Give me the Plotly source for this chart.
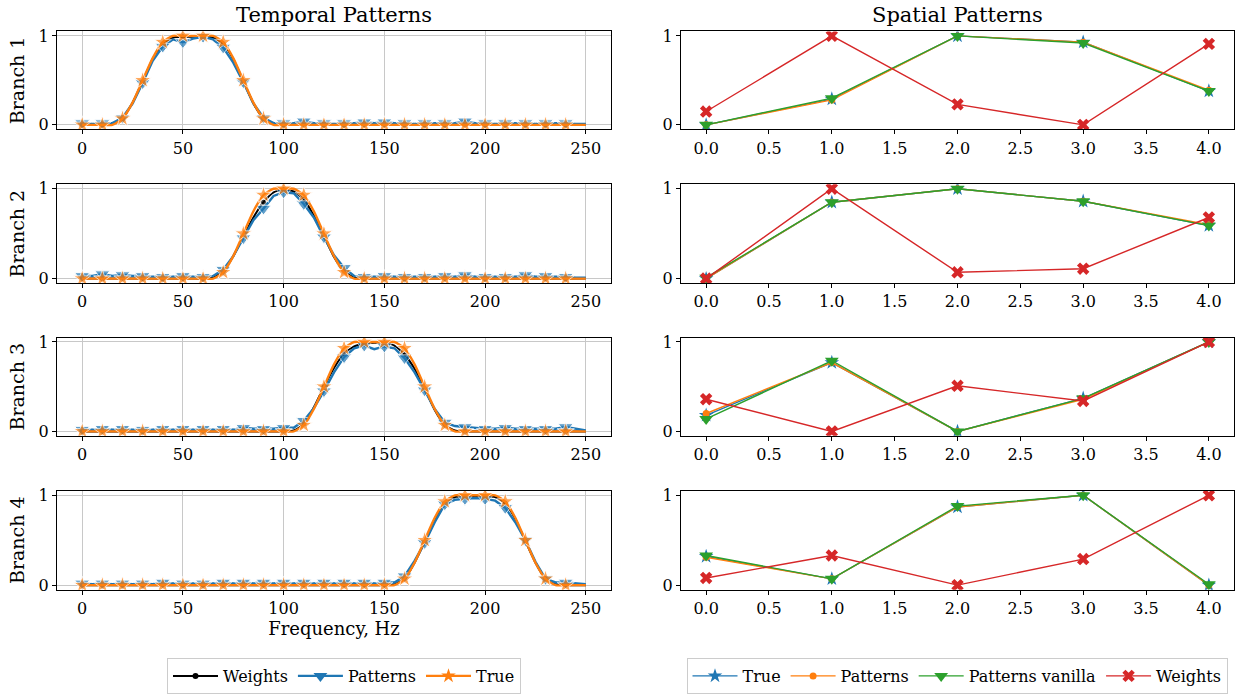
import plotly.graph_objects as go
from plotly.subplots import make_subplots

# ---------------- data ----------------
freq = list(range(0, 255, 5))  # 0..250 Hz, 51 points

true_t = [
    [0, 0, 0, 0, 0.07, 0.25, 0.5, 0.75, 0.93, 1, 1, 1, 1, 1, 0.93, 0.75, 0.5, 0.25, 0.07, 0,
     0, 0, 0, 0, 0, 0, 0, 0, 0, 0, 0, 0, 0, 0, 0, 0, 0, 0, 0, 0, 0, 0, 0, 0, 0, 0, 0, 0, 0, 0, 0],
    [0, 0, 0, 0, 0, 0, 0, 0, 0, 0, 0, 0, 0,
     0, 0.07, 0.25, 0.5, 0.75, 0.93, 1, 1, 1, 0.93, 0.75, 0.5, 0.25, 0.07, 0,
     0, 0, 0, 0, 0, 0, 0, 0, 0, 0, 0, 0, 0, 0, 0, 0, 0, 0, 0, 0, 0, 0, 0],
    [0, 0, 0, 0, 0, 0, 0, 0, 0, 0, 0, 0, 0, 0, 0, 0, 0, 0, 0, 0, 0, 0,
     0.07, 0.25, 0.5, 0.75, 0.93, 1, 1, 1, 1, 1, 0.93, 0.75, 0.5, 0.25, 0.07, 0,
     0, 0, 0, 0, 0, 0, 0, 0, 0, 0, 0, 0, 0],
    [0, 0, 0, 0, 0, 0, 0, 0, 0, 0, 0, 0, 0, 0, 0, 0, 0, 0, 0, 0, 0, 0, 0, 0, 0, 0, 0, 0, 0, 0, 0, 0,
     0.07, 0.25, 0.5, 0.75, 0.93, 1, 1, 1, 1, 1, 0.93, 0.75, 0.5, 0.25, 0.07, 0,
     0, 0, 0],
]

patterns_t = [
    [0.02, 0.01, 0.02, 0.02, 0.08, 0.24, 0.47, 0.72, 0.88, 0.96, 0.93, 0.97, 0.99, 0.96, 0.87, 0.70, 0.48, 0.24, 0.08, 0.02,
     0.02, 0.02, 0.04, 0.02, 0.02, 0.01, 0.02, 0.02, 0.03, 0.02, 0.03, 0.02, 0.02, 0.01, 0.02, 0.02, 0.02, 0.02, 0.04, 0.02,
     0.02, 0.01, 0.02, 0.02, 0.02, 0.01, 0.02, 0.02, 0.02, 0.01, 0.01],
    [0.03, 0.03, 0.05, 0.03, 0.04, 0.03, 0.03, 0.02, 0.02, 0.02, 0.03, 0.02, 0.02, 0.03, 0.10, 0.25, 0.45, 0.65, 0.78, 0.92,
     0.96, 0.95, 0.83, 0.68, 0.46, 0.26, 0.12, 0.03, 0.02, 0.02, 0.03, 0.02, 0.02, 0.02, 0.02, 0.02, 0.03, 0.02, 0.04, 0.02,
     0.02, 0.02, 0.02, 0.02, 0.04, 0.02, 0.03, 0.02, 0.02, 0.01, 0.01],
    [0.02, 0.02, 0.03, 0.02, 0.03, 0.02, 0.02, 0.02, 0.03, 0.02, 0.03, 0.02, 0.03, 0.02, 0.03, 0.02, 0.04, 0.03, 0.03, 0.03,
     0.04, 0.04, 0.12, 0.26, 0.45, 0.66, 0.83, 0.93, 0.96, 0.92, 0.95, 0.93, 0.82, 0.66, 0.46, 0.25, 0.10, 0.06, 0.05, 0.04,
     0.03, 0.03, 0.04, 0.03, 0.03, 0.03, 0.03, 0.03, 0.05, 0.03, 0.01],
    [0.02, 0.01, 0.02, 0.01, 0.02, 0.01, 0.02, 0.01, 0.03, 0.02, 0.02, 0.02, 0.02, 0.02, 0.03, 0.02, 0.03, 0.02, 0.03, 0.02,
     0.03, 0.02, 0.03, 0.02, 0.03, 0.02, 0.03, 0.02, 0.03, 0.02, 0.03, 0.03, 0.10, 0.27, 0.47, 0.70, 0.90, 0.95, 0.96, 0.97,
     0.96, 0.94, 0.86, 0.70, 0.50, 0.26, 0.07, 0.03, 0.03, 0.02, 0.01],
]

weights_t = [
    [0, 0, 0, 0.01, 0.07, 0.25, 0.49, 0.74, 0.91, 0.98, 0.99, 0.99, 0.99, 0.98, 0.91, 0.74, 0.49, 0.24, 0.07, 0.01,
     0, 0, 0, 0, 0, 0, 0, 0, 0, 0, 0, 0, 0, 0, 0, 0, 0, 0, 0, 0, 0, 0, 0, 0, 0, 0, 0, 0, 0, 0, 0],
    [0, 0, 0, 0, 0, 0, 0, 0, 0, 0, 0, 0, 0,
     0.01, 0.08, 0.25, 0.47, 0.68, 0.85, 0.96, 0.99, 0.97, 0.88, 0.70, 0.47, 0.24, 0.08, 0.01,
     0, 0, 0, 0, 0, 0, 0, 0, 0, 0, 0, 0, 0, 0, 0, 0, 0, 0, 0, 0, 0, 0, 0],
    [0, 0, 0, 0, 0, 0, 0, 0, 0, 0, 0, 0, 0, 0, 0, 0, 0, 0, 0, 0, 0, 0.01,
     0.08, 0.27, 0.50, 0.71, 0.87, 0.95, 0.98, 0.99, 0.99, 0.96, 0.86, 0.70, 0.48, 0.24, 0.07, 0.01,
     0, 0, 0, 0, 0, 0, 0, 0, 0, 0, 0, 0, 0],
    [0, 0, 0, 0, 0, 0, 0, 0, 0, 0, 0, 0, 0, 0, 0, 0, 0, 0, 0, 0, 0, 0, 0, 0, 0, 0, 0, 0, 0, 0, 0, 0.01,
     0.07, 0.25, 0.48, 0.72, 0.91, 0.98, 0.99, 0.99, 0.99, 0.98, 0.91, 0.74, 0.49, 0.25, 0.07, 0.01,
     0, 0, 0],
]

chan = [0, 1, 2, 3, 4]
true_s = [
    [0.00, 0.29, 1.00, 0.93, 0.38],
    [0.00, 0.85, 1.00, 0.86, 0.59],
    [0.18, 0.77, 0.00, 0.37, 1.00],
    [0.32, 0.07, 0.87, 1.00, 0.00],
]
patterns_s = [
    [0.00, 0.28, 1.00, 0.93, 0.39],
    [0.00, 0.85, 1.00, 0.86, 0.60],
    [0.20, 0.77, 0.00, 0.36, 1.00],
    [0.31, 0.07, 0.87, 1.00, 0.00],
]
vanilla_s = [
    [0.00, 0.30, 1.00, 0.92, 0.38],
    [0.01, 0.85, 1.00, 0.86, 0.59],
    [0.14, 0.79, 0.00, 0.37, 1.00],
    [0.33, 0.07, 0.88, 1.00, 0.01],
]
weights_s = [
    [0.15, 1.00, 0.23, 0.00, 0.91],
    [0.00, 1.00, 0.07, 0.11, 0.68],
    [0.36, 0.00, 0.51, 0.34, 1.00],
    [0.08, 0.33, 0.00, 0.29, 1.00],
]

branch_labels = ["Branch 1", "Branch 2", "Branch 3", "Branch 4"]
xticks_t = [0, 50, 100, 150, 200, 250]
xticks_s = [0, 0.5, 1, 1.5, 2, 2.5, 3, 3.5, 4]
xticktext_s = ["0.0", "0.5", "1.0", "1.5", "2.0", "2.5", "3.0", "3.5", "4.0"]

# ---------------- style ----------------
W, H = 1239, 694
FONT = "DejaVu Serif"
BLUE, ORANGE, GREEN, RED = "#1f77b4", "#ff7f0e", "#2ca02c", "#d62728"
TICK = 16

def msizes(n, s):
    # markers every 10 Hz (every second sample), none on the last sample
    return [s if (i % 2 == 0 and i < n - 1) else 0 for i in range(n)]

fig = make_subplots(rows=4, cols=2)

rows_px = [(31.5, 129.5), (184.5, 283.5), (338, 436.5), (491.5, 590.5)]
left_px = (57, 611)
right_px = (681, 1234)

n = len(freq)
left_styles = [
    ("Weights", "black", "circle", 6, 6, True),
    ("Patterns", BLUE, "triangle-down", 13, 12, False),
    ("True", ORANGE, "star", 13, 11, True),
]
left_data = [weights_t, patterns_t, true_t]

for r in range(4):
    for (name, col, sym, ms, lms, smooth), data in zip(left_styles, left_data):
        line = dict(color=col, width=2.4 if col != "black" else 2)
        if smooth:
            line.update(shape="spline", smoothing=0.6)
        fig.add_trace(go.Scatter(x=freq, y=data[r], mode="lines+markers", name=name,
                                 line=line, marker=dict(color=col, size=msizes(n, ms), symbol=sym),
                                 showlegend=False), row=r + 1, col=1)

    fig.add_trace(go.Scatter(x=chan, y=true_s[r], mode="lines+markers", name="True",
                             line=dict(color=BLUE, width=1.4),
                             marker=dict(color=BLUE, size=11, symbol="star"),
                             legend="legend2", showlegend=(r == 0)), row=r + 1, col=2)
    fig.add_trace(go.Scatter(x=chan, y=patterns_s[r], mode="lines+markers", name="Patterns",
                             line=dict(color=ORANGE, width=1.4),
                             marker=dict(color=ORANGE, size=7, symbol="circle"),
                             legend="legend2", showlegend=(r == 0)), row=r + 1, col=2)
    fig.add_trace(go.Scatter(x=chan, y=vanilla_s[r], mode="lines+markers", name="Patterns vanilla",
                             line=dict(color=GREEN, width=1.4),
                             marker=dict(color=GREEN, size=12, symbol="triangle-down"),
                             legend="legend2", showlegend=(r == 0)), row=r + 1, col=2)
    fig.add_trace(go.Scatter(x=chan, y=weights_s[r], mode="lines+markers", name="Weights",
                             line=dict(color=RED, width=1.4),
                             marker=dict(color=RED, size=11, symbol="x"),
                             legend="legend2", showlegend=(r == 0)), row=r + 1, col=2)

# legend entries for the temporal panel (constant marker size)
for (name, col, sym, ms, lms, smooth) in left_styles:
    fig.add_trace(go.Scatter(x=[None], y=[None], mode="lines+markers", name=name,
                             line=dict(color=col, width=2.4 if col != "black" else 2),
                             marker=dict(color=col, size=lms, symbol=sym),
                             legend="legend", showlegend=True), row=1, col=1)

axis_common = dict(showline=True, linecolor="black", linewidth=1, mirror=True,
                   ticks="outside", ticklen=4, tickwidth=1, tickcolor="black",
                   tickfont=dict(family=FONT, size=TICK, color="black"), zeroline=False,
                   automargin=False)

for r in range(4):
    top, bot = rows_px[r]
    ydom = [1 - bot / H, 1 - top / H]
    fig.update_xaxes(row=r + 1, col=1, domain=[left_px[0] / W, left_px[1] / W],
                     range=[-12.5, 262.5], tickvals=xticks_t,
                     showgrid=True, gridcolor="#c8c8c8", gridwidth=1, **axis_common)
    fig.update_yaxes(row=r + 1, col=1, domain=ydom, range=[-0.05, 1.05], tickvals=[0, 1],
                     showgrid=True, gridcolor="#c8c8c8", gridwidth=1,
                     title=dict(text=branch_labels[r], font=dict(family=FONT, size=19, color="black"),
                                standoff=8),
                     **axis_common)
    fig.update_xaxes(row=r + 1, col=2, domain=[right_px[0] / W, right_px[1] / W],
                     range=[-0.2, 4.2], tickvals=xticks_s, ticktext=xticktext_s,
                     showgrid=False, **axis_common)
    fig.update_yaxes(row=r + 1, col=2, domain=ydom, range=[-0.05, 1.05], tickvals=[0, 1],
                     showgrid=False, **axis_common)

fig.update_xaxes(row=4, col=1, title=dict(text="Frequency, Hz",
                                          font=dict(family=FONT, size=18, color="black"), standoff=4))

fig.update_layout(
    width=W, height=H,
    margin=dict(l=0, r=0, t=0, b=0, pad=0),
    paper_bgcolor="white", plot_bgcolor="white",
    font=dict(family=FONT, size=TICK, color="black"),
    annotations=[
        dict(text="Temporal Patterns", x=(left_px[0] + left_px[1]) / 2 / W, y=1 - 15 / H,
             xref="paper", yref="paper", showarrow=False, xanchor="center", yanchor="middle",
             font=dict(family=FONT, size=21, color="black")),
        dict(text="Spatial Patterns", x=(right_px[0] + right_px[1]) / 2 / W, y=1 - 15 / H,
             xref="paper", yref="paper", showarrow=False, xanchor="center", yanchor="middle",
             font=dict(family=FONT, size=21, color="black")),
    ],
    legend=dict(orientation="h", x=344 / W, y=1 - 677 / H, xanchor="center", yanchor="middle",
                bordercolor="#cccccc", borderwidth=1, bgcolor="white",
                font=dict(family=FONT, size=TICK, color="black"), itemwidth=45, tracegroupgap=0),
    legend2=dict(orientation="h", x=957 / W, y=1 - 677 / H, xanchor="center", yanchor="middle",
                 bordercolor="#cccccc", borderwidth=1, bgcolor="white",
                 font=dict(family=FONT, size=TICK, color="black"), itemwidth=45, tracegroupgap=0),
)

fig.write_html("out.html", config={"displayModeBar": False},
               post_script="document.body.style.margin='0';document.body.style.padding='0';")
